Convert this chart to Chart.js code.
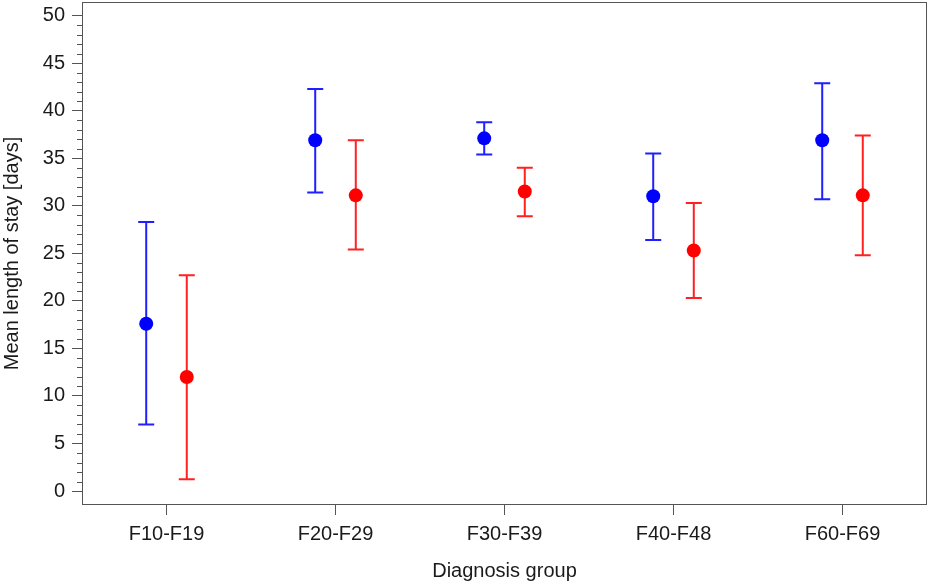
<!DOCTYPE html>
<html>
<head>
<meta charset="utf-8">
<title>Mean length of stay by diagnosis group</title>
<script src="https://cdn.jsdelivr.net/npm/chart.js@4.4.0/dist/chart.umd.min.js"></script>
<style>
    html, body { margin: 0; padding: 0; background: #fff; }
    #chart { display: block; }
</style>
</head>
<body>
<canvas id="chart" width="930" height="583"></canvas>
<script>
// Diagnosis groups on the x axis
const categories = ['F10-F19', 'F20-F29', 'F30-F39', 'F40-F48', 'F60-F69'];

// Blue group: mean and interval
const blueMean = [17.6, 36.9, 37.1, 31.0, 36.9];
const blueLow  = [7.0, 31.4, 35.4, 26.4, 30.7];
const blueHigh = [28.3, 42.3, 38.8, 35.5, 42.9];

// Red group: mean and interval
const redMean = [12.0, 31.1, 31.5, 25.3, 31.1];
const redLow  = [1.25, 25.4, 28.9, 20.3, 24.8];
const redHigh = [22.7, 36.9, 34.0, 30.3, 37.4];

// Y axis tick labels
const yTicks = [0, 5, 10, 15, 20, 25, 30, 35, 40, 45, 50];

const FONT = "'Liberation Sans', Arial, sans-serif";
const TEXT = '#1a1a1a';
const AXIS = '#555';
const SHIFT = 0.12; // horizontal dodge between the two groups

function buildPoints(mean, low, high, shift) {
    return categories.map((c, i) => ({ x: i + 1 + shift, y: mean[i], low: low[i], high: high[i] }));
}

// Draws frame, minor ticks and the error bars
const errorBars = {
    id: 'errorBars',
    beforeDatasetsDraw(chart) {
        const ctx = chart.ctx;
        const area = chart.chartArea;
        const y = chart.scales.y;

        ctx.save();
        ctx.strokeStyle = AXIS;
        ctx.lineWidth = 1;
        ctx.strokeRect(Math.round(area.left) + 0.5, Math.round(area.top) + 0.5,
            Math.round(area.right - area.left) - 1, Math.round(area.bottom - area.top) - 1);

        // minor ticks every day
        ctx.beginPath();
        for (let v = yTicks[0]; v <= yTicks[yTicks.length - 1]; v++) {
            if (v % 5 === 0) continue;
            const py = Math.round(y.getPixelForValue(v)) + 0.5;
            ctx.moveTo(area.left - 5, py);
            ctx.lineTo(area.left, py);
        }
        ctx.stroke();

        chart.data.datasets.forEach((ds, di) => {
            const meta = chart.getDatasetMeta(di);
            ctx.strokeStyle = ds.barColor;
            ctx.lineWidth = 2;
            meta.data.forEach((pt, i) => {
                const raw = ds.data[i];
                const top = y.getPixelForValue(raw.high);
                const bot = y.getPixelForValue(raw.low);
                ctx.beginPath();
                ctx.moveTo(pt.x, top);
                ctx.lineTo(pt.x, bot);
                ctx.moveTo(pt.x - 8, top);
                ctx.lineTo(pt.x + 8, top);
                ctx.moveTo(pt.x - 8, bot);
                ctx.lineTo(pt.x + 8, bot);
                ctx.stroke();
            });
        });
        ctx.restore();
    }
};

new Chart(document.getElementById('chart'), {
    type: 'scatter',
    data: {
        datasets: [
            {
                label: 'Blue',
                data: buildPoints(blueMean, blueLow, blueHigh, -SHIFT),
                backgroundColor: '#0000ff',
                barColor: '#1f1fff',
                pointRadius: 7,
                pointHoverRadius: 7,
                borderWidth: 0
            },
            {
                label: 'Red',
                data: buildPoints(redMean, redLow, redHigh, SHIFT),
                backgroundColor: '#ff0000',
                barColor: '#ff2020',
                pointRadius: 7,
                pointHoverRadius: 7,
                borderWidth: 0
            }
        ]
    },
    options: {
        responsive: false,
        animation: false,
        events: [],
        layout: { autoPadding: false, padding: { top: 2, right: 3, left: 0, bottom: 0 } },
        plugins: {
            legend: { display: false },
            tooltip: { enabled: false }
        },
        scales: {
            x: {
                type: 'linear',
                min: 0.5,
                max: categories.length + 0.5,
                afterBuildTicks: (scale) => {
                    scale.ticks = categories.map((c, i) => ({ value: i + 1 }));
                },
                afterFit: (scale) => {
                    scale.height = 78;
                    scale.paddingLeft = 0;
                    scale.paddingRight = 0;
                },
                ticks: {
                    callback: (value, index) => categories[index],
                    color: TEXT,
                    padding: 7,
                    maxRotation: 0,
                    font: { family: FONT, size: 20 }
                },
                grid: { drawOnChartArea: false, drawTicks: true, tickLength: 10, color: AXIS, tickColor: AXIS },
                border: { display: false },
                title: {
                    display: true,
                    text: 'Diagnosis group',
                    color: TEXT,
                    padding: { top: 0, bottom: 0 },
                    font: { family: FONT, size: 20 }
                }
            },
            y: {
                min: -1.47,
                max: 51.44,
                afterBuildTicks: (scale) => {
                    scale.ticks = yTicks.map(v => ({ value: v }));
                },
                afterFit: (scale) => {
                    scale.width = 82;
                    scale.paddingTop = 0;
                    scale.paddingBottom = 0;
                },
                ticks: {
                    color: TEXT,
                    padding: 7,
                    font: { family: FONT, size: 20 }
                },
                grid: { drawOnChartArea: false, drawTicks: true, tickLength: 10, color: AXIS, tickColor: AXIS },
                border: { display: false },
                title: {
                    display: true,
                    text: 'Mean length of stay [days]',
                    color: TEXT,
                    padding: { top: 0, bottom: 0 },
                    font: { family: FONT, size: 20 }
                }
            }
        }
    },
    plugins: [errorBars]
});
</script>
</body>
</html>
